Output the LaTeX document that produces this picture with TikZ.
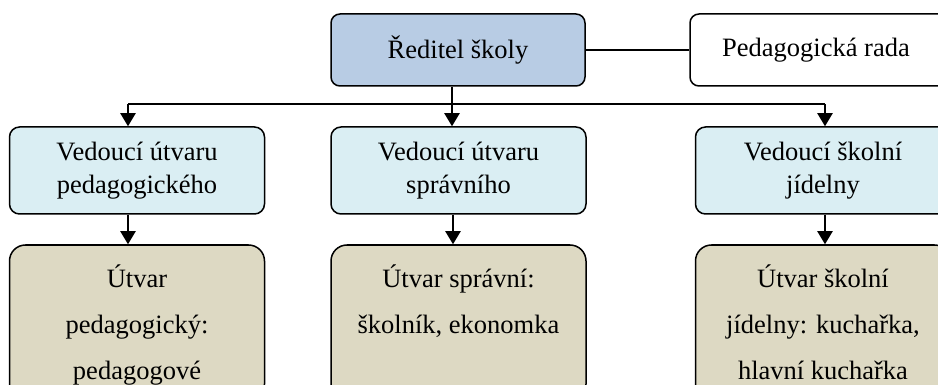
\documentclass[tikz,border=0pt]{standalone}
\usepackage{fontspec}
\setmainfont{Liberation Serif}
\usetikzlibrary{arrows.meta}
\definecolor{topblue}{HTML}{B8CCE4}
\definecolor{midblue}{HTML}{DAEEF3}
\definecolor{tanfill}{HTML}{DDD9C3}
\begin{document}
\begin{tikzpicture}[x=0.5pt,y=-0.5pt,
  box/.style={draw=black, line width=0.75pt, inner sep=0pt, align=center},
  topbox/.style={box, rounded corners=4.5pt, minimum width=127pt, minimum height=36pt,
    font=\fontsize{13.25pt}{16pt}\selectfont},
  midbox/.style={box, fill=midblue, rounded corners=5pt, minimum width=127.5pt, minimum height=43.5pt,
    font=\fontsize{13.25pt}{16.5pt}\selectfont},
  lowbox/.style={box, fill=tanfill, rounded corners=8pt, minimum width=127.5pt, minimum height=77.5pt},
  lowtext/.style={inner sep=0pt, align=center, font=\fontsize{13.25pt}{23pt}\selectfont},
  conn/.style={line width=1pt},
  arr/.style={conn, -{Triangle[width=7.5pt,length=6.5pt]}}]
\useasboundingbox (0,0) rectangle (938,385);
\clip (0,0) rectangle (938,385);
\fill[white] (0,0) rectangle (938,385);
% top level
\node[topbox, fill=topblue] (reditel) at (458,50) {Ředitel školy};
\node[topbox, fill=white, minimum width=132pt] (rada) at (822,50) {Pedagogická rada\hspace*{6pt}};
% second level
\node[midbox] (v1) at (137,170.5) {Vedoucí útvaru\\pedagogického};
\node[midbox] (v2) at (458.5,170.5) {Vedoucí útvaru\\správního};
\node[midbox] (v3) at (823,170.5) {Vedoucí školní\\jídelny};
% third level
\node[lowbox] (u1) at (137,322.5) {};
\node[lowbox] (u2) at (458.5,322.5) {};
\node[lowbox] (u3) at (823,322.5) {};
\node[lowtext, anchor=north] (t1) at (137,264) {Útvar\\pedagogický:\\pedagogové};
\node[lowtext, anchor=north] (t2) at (458.5,264) {Útvar správní:\\školník, ekonomka};
\node[lowtext, anchor=north] (t3) at (823,264) {Útvar školní\\jídelny: kuchařka,\\hlavní kuchařka};
% connectors
\coordinate (b1) at (128,104);
\coordinate (j) at (452,104);
\coordinate (b3) at (825,104);
\draw[conn] (reditel.east) -- (rada.west);
\draw[conn] (reditel.south -| j) -- (j);
\draw[conn] (b1) -- (b3);
\draw[arr] (b1) -- (b1 |- v1.north);
\draw[arr] (j) -- (j |- v2.north);
\draw[arr] (b3) -- (b3 |- v3.north);
\draw[arr] (b1 |- v1.south) -- (b1 |- u1.north);
\draw[arr] ([xshift=0.5pt]j |- v2.south) -- ([xshift=0.5pt]j |- u2.north);
\draw[arr] (b3 |- v3.south) -- (b3 |- u3.north);
\end{tikzpicture}
\end{document}
